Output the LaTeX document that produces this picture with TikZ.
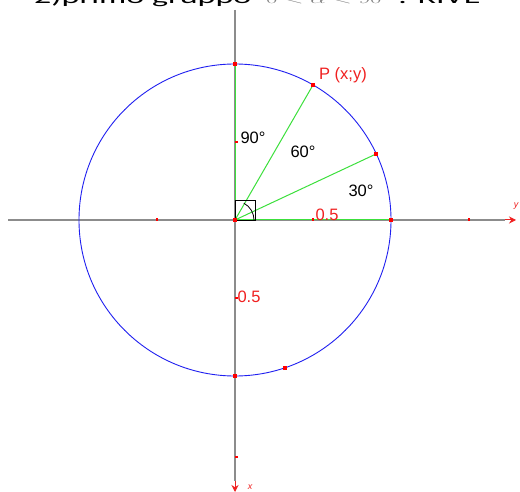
\documentclass[tikz,border=0pt]{standalone}
\usepackage{fontspec}
\setmainfont{Liberation Sans}
\newfontfamily\calib{Carlito}
\usetikzlibrary{arrows.meta}
\definecolor{raygreen}{HTML}{3CE03C}
\definecolor{axisgray}{HTML}{8C8C8C}
\definecolor{circblue}{HTML}{2020F0}
\definecolor{lblred}{HTML}{F02020}
\begin{document}
\begin{tikzpicture}[x=1pt,y=-1pt,
  axis/.style={draw=axisgray, line width=1.5pt},
  axtip/.style={draw=lblred, line width=1pt, -{Stealth[length=7pt,width=7pt]}},
  ray/.style={draw=raygreen, line width=1pt},
  rdot/.style={fill=red, inner sep=0pt, minimum size=4pt, rectangle},
  tickm/.style={fill=red, inner sep=0pt, minimum width=2pt, minimum height=3pt, rectangle},
  vtickm/.style={fill=red, inner sep=0pt, minimum width=3pt, minimum height=2pt, rectangle},
  deg/.style={font=\fontsize{16.5}{18}\selectfont, text=black, inner sep=0pt},
  rlbl/.style={font=\fontsize{16.5}{18}\selectfont, text=lblred, inner sep=0pt},
  axlbl/.style={font=\fontsize{9}{10}\selectfont\itshape, text=lblred, inner sep=0pt},
  ttl/.style={anchor=base west, inner sep=0pt, transform shape}
]
\useasboundingbox (0,0) rectangle (520,492);
\clip (0,0) rectangle (520,492);
\fill[white] (0,0) rectangle (520,492);

% title (cropped at the top)
\begin{scope}[shift={(0,4)}, yscale=0.55]
\node[ttl, font=\calib\fontsize{34}{36}\selectfont] (title) at (34,0) {2)primo gruppo};
\node[ttl, text=gray, font=\fontsize{28}{30}\selectfont] (cond) at (266,0) {$0<\alpha<90$};
\node[ttl, font=\calib\fontsize{34}{36}\selectfont] (rest) at (398,0) {: RIVE};
\end{scope}

% coordinates
\coordinate (O) at (235,220);
\coordinate (A) at (391,220);
\coordinate (B) at (235,64);
\coordinate (C) at (235,376);
\coordinate (P) at (313,85);
\coordinate (Q) at (376,154);
\coordinate (R) at (285,368);
\coordinate (xl) at (8,220);
\coordinate (xr) at (505,220);
\coordinate (xe) at (516,220);
\coordinate (yt) at (235,10);
\coordinate (yb) at (235,481);
\coordinate (ye) at (235,492);

% axes
\draw[axis] (xl) -- (xr);
\draw[axis] (yt) -- (yb);
\draw[axtip] (xr) -- (xe);
\draw[axtip] (yb) -- (ye);
\node[axlbl] (ylab) at (516,206) {y};
\node[axlbl] (xlab) at (250,487) {x};

% circle
\draw[circblue, line width=0.9pt] (O) circle[radius=156];

% rays
\draw[ray] (O) -- (B);
\draw[ray] (O) -- (A);
\draw[ray] (O) -- (P);
\draw[ray] (O) -- (Q);

% right angle marker
\draw[black, line width=0.9pt] (O) rectangle (255,200);
\draw[black, line width=0.8pt] (254,220) arc[start angle=0, end angle=-62, radius=19];

% ticks
\node[tickm] (t1) at (157,220) {};
\node[tickm] (t2) at (313,220) {};
\node[tickm] (t3) at (469,220) {};
\node[vtickm] (t4) at (236,142) {};
\node[vtickm] (t5) at (236,298) {};
\node[vtickm] (t6) at (236,457) {};

% points
\node[rdot] (pO) at (O) {};
\node[rdot] (pA) at (A) {};
\node[rdot] (pB) at (B) {};
\node[rdot] (pC) at (C) {};
\node[rdot] (pP) at (P) {};
\node[rdot] (pQ) at (Q) {};
\node[rdot] (pR) at (R) {};

% labels
\node[deg] (l90) at (253,138) {90°};
\node[deg] (l60) at (303,152) {60°};
\node[deg] (l30) at (361,191) {30°};
\node[rlbl] (h05) at (327,215) {0.5};
\node[rlbl] (v05) at (249,297) {0.5};
\node[rlbl] (lP) at (343,75) {P (x;y)};
\end{tikzpicture}
\end{document}
